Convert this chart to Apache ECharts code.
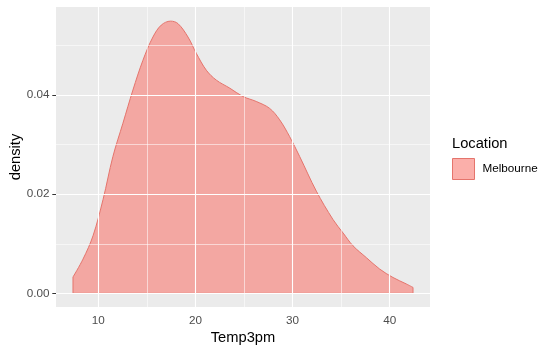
<!DOCTYPE html>
<html>
<head>
<meta charset="utf-8">
<script src="https://cdn.jsdelivr.net/npm/echarts@6/dist/echarts.min.js"></script>
<style>
  html, body { margin: 0; padding: 0; background: #fff; }
  #main { width: 555px; height: 354px; }
</style>
</head>
<body>
<div id="main"></div>
<script>
// density estimate of Temp3pm
var temp = [7.39, 8.42, 9.45, 10.48, 11.50, 12.53, 13.56, 14.59, 15.62, 16.48, 17.44, 18.2,
            19.23, 20.09, 21.12, 22.15, 23.52, 24.89, 26.26, 27.64, 28.67, 29.70, 30.73,
            32.45, 34.16, 35.19, 36.22, 37.60, 38.97, 40.34, 41.71, 42.40];
var density = [0.0033, 0.0069, 0.0116, 0.0189, 0.0276, 0.0343, 0.0410, 0.0470, 0.0517, 0.0541,
               0.0549, 0.0544, 0.0517, 0.0484, 0.0450, 0.0430, 0.0414, 0.0397, 0.0387, 0.0373,
               0.0350, 0.0316, 0.0276, 0.0206, 0.0149, 0.0122, 0.0096, 0.0072, 0.0049, 0.0032,
               0.0019, 0.0012];

var xTicks = [10, 20, 30, 40];
var xMinor = [15, 25, 35];
var yTicks = [0, 0.02, 0.04];
var yMinor = [0.01, 0.03, 0.05];

var fill = 'rgba(248,118,109,0.58)';
var edge = '#E5746C';
var font = 'Liberation Sans, Arial, sans-serif';

var curve = [];
for (var i = 0; i < temp.length; i++) curve.push([temp[i], density[i]]);
var last = temp.length - 1;
// the closed sides of the polygon: left edge, baseline, right edge
var sides = [[temp[0], density[0]], [temp[0], 0], [temp[last], 0], [temp[last], density[last]]];

var gridLines = [];
xTicks.forEach(function (v) { gridLines.push({xAxis: v, lineStyle: {width: 1.1}}); });
xMinor.forEach(function (v) { gridLines.push({xAxis: v, lineStyle: {width: 0.55}}); });
yTicks.forEach(function (v) { gridLines.push({yAxis: v, lineStyle: {width: 1.1}}); });
yMinor.forEach(function (v) { gridLines.push({yAxis: v, lineStyle: {width: 0.55}}); });

var myChart = echarts.init(document.getElementById('main'));
myChart.setOption({
    animation: false,
    backgroundColor: '#fff',
    title: {
        text: 'Location',
        left: 452,
        top: 136,
        padding: 0,
        textStyle: {fontFamily: font, fontSize: 14.7, fontWeight: 'normal', color: '#000'}
    },
    legend: {
        data: ['Melbourne'],
        left: 452,
        top: 158,
        padding: 0,
        icon: 'rect',
        itemWidth: 22,
        itemHeight: 21,
        selectedMode: false,
        itemStyle: {color: fill, borderColor: edge, borderWidth: 1},
        textStyle: {fontFamily: font, fontSize: 11.7, color: '#000', padding: [0, 0, 0, 3]}
    },
    grid: {
        left: 56,
        top: 7,
        right: 125,
        bottom: 47,
        outerBoundsMode: 'none',
        containLabel: false,
        show: true,
        backgroundColor: '#EBEBEB',
        borderWidth: 0
    },
    xAxis: {
        type: 'value',
        min: 5.64,
        max: 44.15,
        name: 'Temp3pm',
        nameLocation: 'middle',
        nameGap: 23,
        nameMoveOverlap: false,
        nameTextStyle: {fontFamily: font, fontSize: 14.7, color: '#000'},
        axisLine: {show: false},
        splitLine: {show: false},
        axisTick: {show: true, customValues: xTicks, length: 3.7, lineStyle: {color: '#333'}},
        axisLabel: {
            customValues: xTicks,
            margin: 8,
            fontFamily: font, fontSize: 11.7, color: '#4D4D4D'
        }
    },
    yAxis: {
        type: 'value',
        min: -0.00275,
        max: 0.05775,
        name: 'density',
        nameLocation: 'middle',
        nameGap: 33,
        nameMoveOverlap: false,
        nameTextStyle: {fontFamily: font, fontSize: 14.7, color: '#000'},
        axisLine: {show: false},
        splitLine: {show: false},
        axisTick: {show: true, customValues: yTicks, length: 3.7, lineStyle: {color: '#333'}},
        axisLabel: {
            customValues: yTicks,
            margin: 6.5,
            fontFamily: font, fontSize: 11.7, color: '#4D4D4D',
            formatter: function (v) { return v.toFixed(2); }
        }
    },
    series: [{
        name: 'grid',
        type: 'line',
        data: [],
        z: 1,
        silent: true,
        markLine: {
            silent: true,
            symbol: ['none', 'none'],
            label: {show: false},
            emphasis: {disabled: true},
            lineStyle: {color: '#fff', type: 'solid'},
            data: gridLines
        }
    }, {
        name: 'Melbourne',
        type: 'line',
        data: curve,
        z: 3,
        smooth: 0.35,
        symbol: 'none',
        silent: true,
        color: edge,
        lineStyle: {color: edge, width: 1},
        areaStyle: {color: fill, opacity: 1}
    }, {
        name: 'sides',
        type: 'line',
        data: sides,
        z: 4,
        symbol: 'none',
        silent: true,
        lineStyle: {color: edge, width: 1}
    }]
});
</script>
</body>
</html>
